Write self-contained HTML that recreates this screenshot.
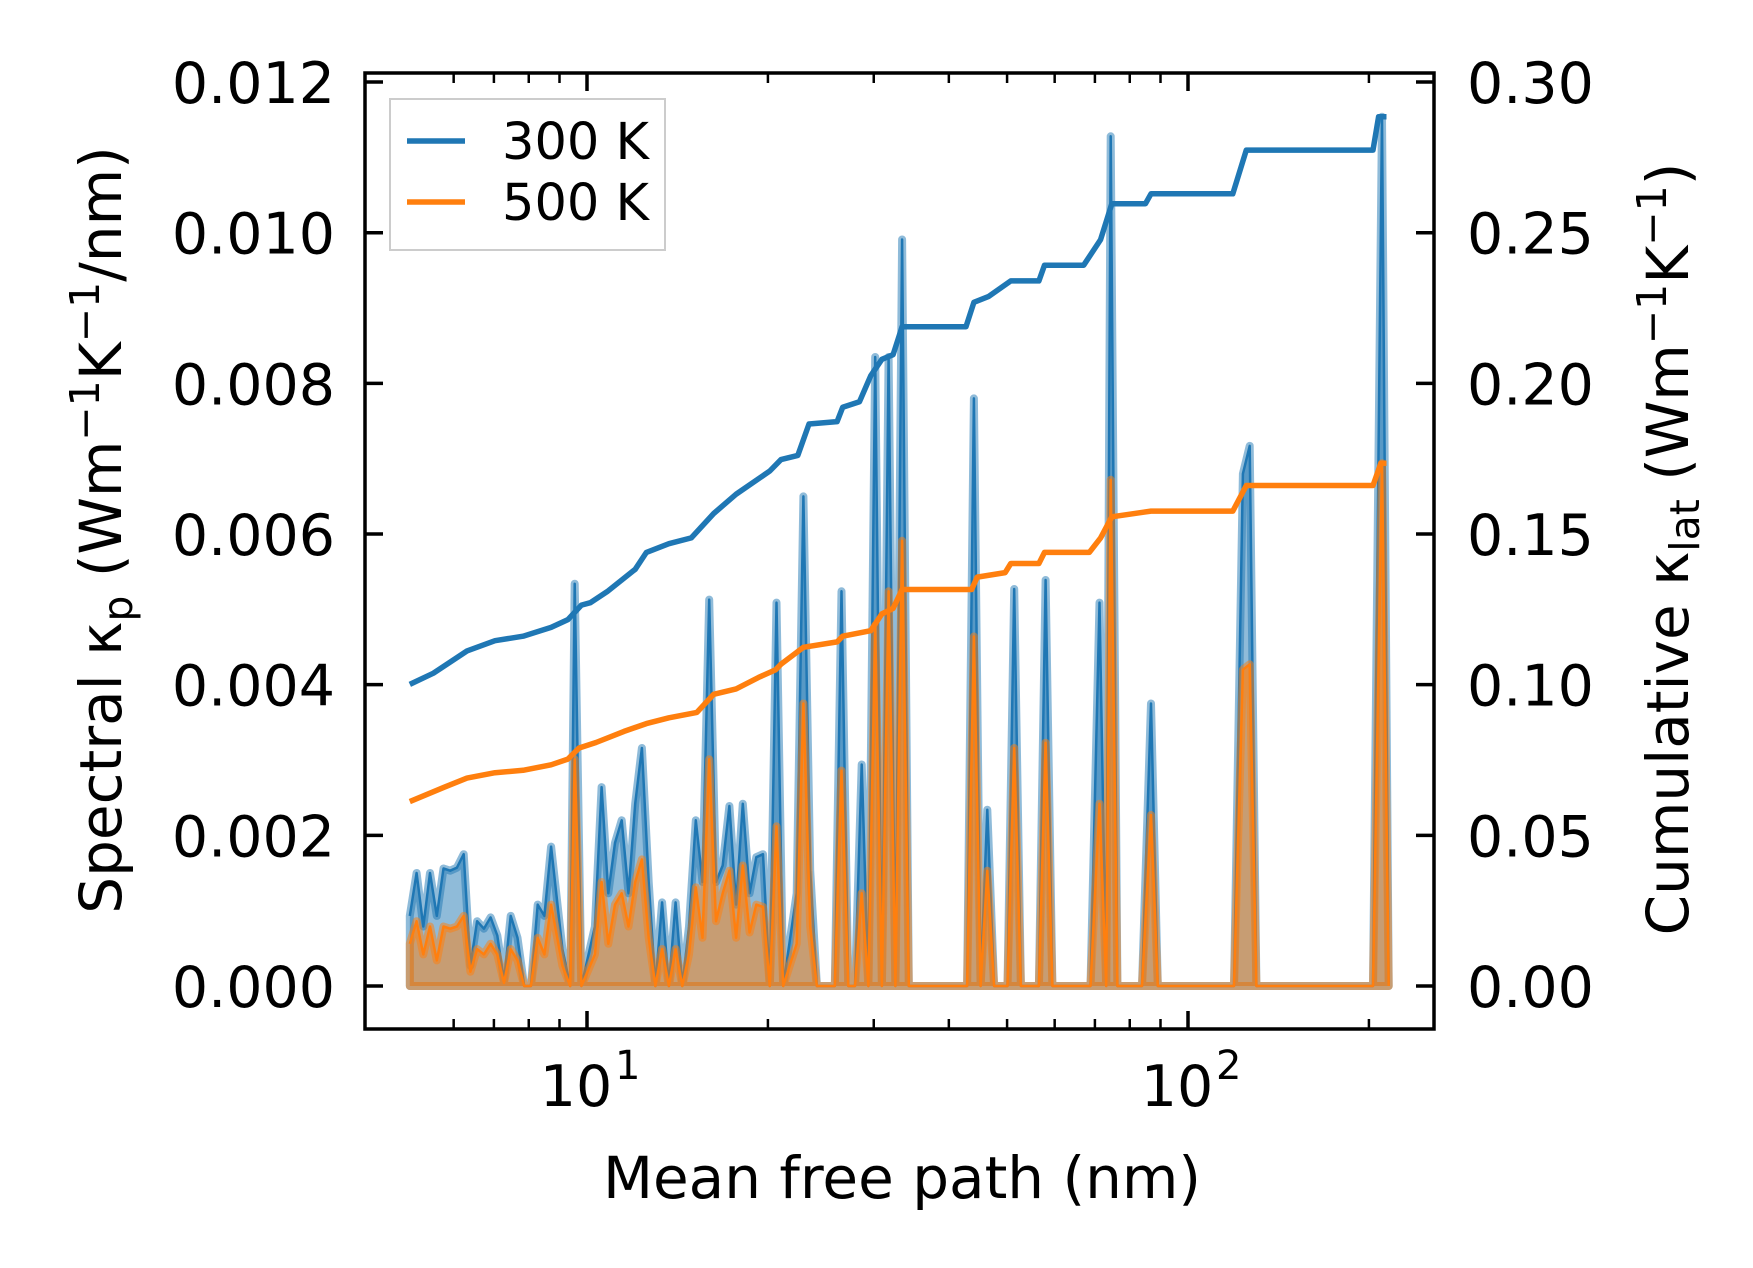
<!DOCTYPE html>
<html><head><meta charset="utf-8"><style>
html,body{margin:0;padding:0;background:#fff;}
svg{display:block;font-family:"DejaVu Sans","Liberation Sans",sans-serif;}
</style></head><body>
<svg id="chart" width="1753" height="1268" xmlns="http://www.w3.org/2000/svg">
<g id="plot"></g>
<g id="axes"></g>
</svg>
<script>
// ---- data ----
const logMfp = [0.7052,0.7164,0.7276,0.7388,0.7500,0.7612,0.7724,0.7836,0.7948,0.8060,0.8172,0.8284,0.8396,0.8507,0.8619,0.8731,0.8843,0.8955,0.9067,0.9179,0.9291,0.9403,0.9590,0.9720,0.9795,0.9907,1.0131,1.0243,1.0354,1.0466,1.0578,1.0690,1.0802,1.0914,1.1026,1.1138,1.1250,1.1362,1.1474,1.1586,1.1698,1.1810,1.1922,1.2034,1.2146,1.2258,1.2369,1.2481,1.2593,1.2705,1.2817,1.2929,1.3041,1.3153,1.3265,1.3489,1.3601,1.3713,1.3825,1.4123,1.4235,1.4347,1.4459,1.4571,1.4683,1.4795,1.4907,1.5019,1.5131,1.5243,1.5355,1.6325,1.6437,1.6549,1.6661,1.6773,1.6996,1.7108,1.7220,1.7519,1.7631,1.7743,1.8377,1.8527,1.8639,1.8713,1.8825,1.9235,1.9385,1.9497,2.0765,2.0914,2.1026,2.1138,2.3078,2.3228,2.3340];
const spec300 = [0.00093,0.00150,0.00079,0.00150,0.00093,0.00156,0.00153,0.00157,0.00175,0.00027,0.00086,0.00076,0.00091,0.00067,0.00007,0.00093,0.00064,0,0,0.00108,0.00093,0.00185,0.00049,0,0.00534,0,0.00079,0.00264,0.00123,0.00190,0.00220,0.00123,0.00242,0.00316,0.00138,0,0.00111,0,0.00111,0,0.00079,0.00220,0.00138,0.00513,0.00138,0.00160,0.00239,0.00108,0.00242,0.00123,0.00171,0.00175,0,0.00509,0,0.00123,0.00650,0.00153,0,0,0.00524,0,0,0.00294,0,0.00835,0,0.00835,0,0.00991,0,0,0.00780,0,0.00234,0,0,0.00527,0,0,0.00539,0,0,0.00509,0,0.01128,0,0,0.00375,0,0,0.00680,0.00717,0,0,0.01154,0];
const spec500 = [0.00056,0.00086,0.00042,0.00079,0.00034,0.00079,0.00076,0.00079,0.00093,0.00019,0.00049,0.00042,0.00056,0.00042,0.00004,0.00049,0.00034,0,0,0.00064,0.00042,0.00108,0.00027,0,0.00301,0,0.00042,0.00138,0.00056,0.00108,0.00123,0.00079,0.00138,0.00168,0.00064,0,0.00049,0,0.00049,0,0.00042,0.00131,0.00064,0.00301,0.00086,0.00123,0.00153,0.00064,0.00160,0.00071,0.00108,0.00105,0,0.00212,0,0.00056,0.00375,0.00079,0,0,0.00286,0,0,0.00123,0,0.00479,0,0.00524,0,0.00591,0,0,0.00464,0,0.00153,0,0,0.00316,0,0,0.00323,0,0,0.00242,0,0.00672,0,0,0.00227,0,0,0.00420,0.00427,0,0,0.00694,0];
const cumLog300 = [0.7052,0.7444,0.8004,0.8470,0.8937,0.9403,0.9683,0.9907,1.0056,1.0336,1.0802,1.0989,1.1362,1.1735,1.2108,1.2481,1.3041,1.3228,1.3508,1.3694,1.4161,1.4254,1.4534,1.4720,1.4907,1.5093,1.5243,1.6306,1.6437,1.6679,1.7052,1.7519,1.7612,1.8265,1.8545,1.8732,1.9291,1.9385,2.0746,2.0970,2.3078,2.3172,2.3303];
const cum300 = [0.1001,0.1038,0.1112,0.1146,0.1161,0.1190,0.1216,0.1264,0.1272,0.1309,0.1383,0.1439,0.1468,0.1487,0.1568,0.1632,0.1709,0.1747,0.1761,0.1865,0.1873,0.1921,0.1939,0.2025,0.2080,0.2095,0.2188,0.2188,0.2269,0.2288,0.2340,0.2340,0.2392,0.2392,0.2477,0.2596,0.2596,0.2629,0.2629,0.2774,0.2774,0.2885,0.2885];
const cumLog500 = [0.7052,0.7630,0.8004,0.8470,0.8937,0.9403,0.9683,0.9869,1.0149,1.0616,1.0989,1.1362,1.1828,1.2108,1.2481,1.2855,1.3134,1.3228,1.3601,1.4161,1.4254,1.4720,1.4907,1.5093,1.5243,1.6399,1.6493,1.6959,1.7052,1.7519,1.7612,1.8358,1.8545,1.8732,1.9385,2.0746,2.0970,2.3078,2.3209,2.3303];
const cum500 = [0.0612,0.0660,0.0690,0.0708,0.0716,0.0734,0.0753,0.0790,0.0808,0.0845,0.0871,0.0890,0.0908,0.0968,0.0986,0.1024,0.1049,0.1068,0.1124,0.1142,0.1161,0.1179,0.1235,0.1253,0.1316,0.1316,0.1357,0.1372,0.1402,0.1402,0.1439,0.1439,0.1487,0.1557,0.1576,0.1576,0.1661,0.1661,0.1735,0.1735];
const leftTicks = [0,0.002,0.004,0.006,0.008,0.010,0.012];
const leftTickLabels = ["0.000","0.002","0.004","0.006","0.008","0.010","0.012"];
const rightTicks = [0,0.05,0.10,0.15,0.20,0.25,0.30];
const rightTickLabels = ["0.00","0.05","0.10","0.15","0.20","0.25","0.30"];
const xMajor = [10,100];
const xMajorExp = ["1","2"];
const xMinor = [6,7,8,9,20,30,40,50,60,70,80,90,200];

// ---- geometry ----
const L=365,R=1434,T=73,B=1029;
const x = lg => 587 + (lg-1)*601;
const xv = v => x(Math.log10(v));
const yL = v => 986 - v*75330;
const yR = v => 986 - v*3013.2;
const NS="http://www.w3.org/2000/svg";
function mk(tag, attrs, parent){const e=document.createElementNS(NS,tag);for(const k in attrs)e.setAttribute(k,attrs[k]);parent.appendChild(e);return e;}
const plot=document.getElementById('plot'), axes=document.getElementById('axes');

function spectral(vals, color, name){
  let d='M'+x(logMfp[0])+','+yL(0);
  logMfp.forEach((lg,i)=>{d+=' L'+x(lg).toFixed(1)+','+yL(vals[i]).toFixed(1);});
  d+=' L'+x(logMfp[logMfp.length-1])+','+yL(0)+' Z';
  const f=mk('path',{d:d,fill:color,'fill-opacity':0.5,stroke:color,'stroke-opacity':0.5,'stroke-width':8,'stroke-linejoin':'round'},plot);
  
  
  let ld='';
  logMfp.forEach((lg,i)=>{ld+=(i?' L':'M')+x(lg).toFixed(1)+','+yL(vals[i]).toFixed(1);});
  const l=mk('path',{d:ld,fill:'none',stroke:color,'stroke-width':2.5,'stroke-linejoin':'round'},plot);
  
  
}
spectral(spec300,'#1f77b4','spectral-300k');
spectral(spec500,'#ff7f0e','spectral-500k');

function cum(lgs, vals, color, name){
  let d='';
  lgs.forEach((lg,i)=>{d+=(i?' L':'M')+x(lg).toFixed(1)+','+yR(vals[i]).toFixed(1);});
  const p=mk('path',{d:d,fill:'none',stroke:color,'stroke-width':5.5,'stroke-linejoin':'round'},plot);
  
  
}
cum(cumLog300,cum300,'#1f77b4','cumulative-300k');
cum(cumLog500,cum500,'#ff7f0e','cumulative-500k');

// frame
const fr=mk('rect',{x:L,y:T,width:R-L,height:B-T,fill:'none',stroke:'#000','stroke-width':3.5},axes);



leftTicks.forEach((v,i)=>{
  const t=mk('line',{x1:L,x2:L+18,y1:yL(v),y2:yL(v),stroke:'#000','stroke-width':3.5},axes);
  
  
  const s=mk('text',{x:335,y:yL(v)+21,'font-size':57,'text-anchor':'end'},axes);
  s.textContent=leftTickLabels[i];
  
  
});
rightTicks.forEach((v,i)=>{
  const t=mk('line',{x1:R-18,x2:R,y1:yR(v),y2:yR(v),stroke:'#000','stroke-width':3.5},axes);
  
  
  const s=mk('text',{x:1467,y:yR(v)+21,'font-size':57},axes);
  s.textContent=rightTickLabels[i];
  
  
});
xMajor.forEach((v,i)=>{
  [[B,B-18],[T,T+18]].forEach(p=>{
    const t=mk('line',{x1:xv(v),x2:xv(v),y1:p[0],y2:p[1],stroke:'#000','stroke-width':3.5},axes);
    
    
  });
  const s=mk('text',{x:xv(v)-11,y:1106,'font-size':57,'text-anchor':'middle'},axes);
  s.textContent='10';
  
  
  const e=mk('text',{x:xv(v)+28,y:1079,'font-size':40},axes);
  e.textContent=xMajorExp[i];
  
  
});
xMinor.forEach(v=>{
  [[B,B-10],[T,T+10]].forEach(p=>{
    const t=mk('line',{x1:xv(v),x2:xv(v),y1:p[0],y2:p[1],stroke:'#000','stroke-width':2.5},axes);
    
    
  });
});
</script>
<script>
(function(){
const svg=document.getElementById('chart');
svg.insertAdjacentHTML('beforeend',`
<text x="902" y="1198" font-size="58" text-anchor="middle">Mean free path (nm)</text>
<text transform="translate(121,530) rotate(-90)" font-size="58" text-anchor="middle">Spectral κ<tspan font-size="41" dy="11">p</tspan><tspan dy="-11"> (Wm</tspan><tspan font-size="41" dy="-22">−1</tspan><tspan dy="22">K</tspan><tspan font-size="41" dy="-22">−1</tspan><tspan dy="22">/nm)</tspan></text>
<text transform="translate(1688,549) rotate(-90)" font-size="58" text-anchor="middle">Cumulative κ<tspan font-size="41" dy="11">lat</tspan><tspan dy="-11"> (Wm</tspan><tspan font-size="41" dy="-22">−1</tspan><tspan dy="22">K</tspan><tspan font-size="41" dy="-22">−1</tspan><tspan dy="22">)</tspan></text>
<g>
<rect x="390" y="99" width="275" height="151" fill="#fff" fill-opacity="0.8" stroke="#ccc" stroke-width="2"/>
<line x1="407" x2="465" y1="141" y2="141" stroke="#1f77b4" stroke-width="5.5"/>
<text x="502" y="159" font-size="51">300 K</text>
<line x1="407" x2="465" y1="202" y2="202" stroke="#ff7f0e" stroke-width="5.5"/>
<text x="502" y="220" font-size="51">500 K</text>
</g>`);
})();
</script>
</body></html>
